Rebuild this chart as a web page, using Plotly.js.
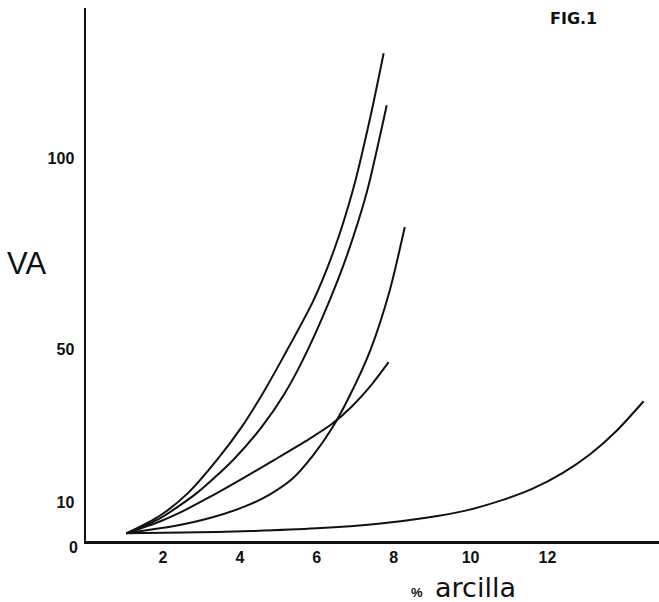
<!DOCTYPE html>
<html>
<head>
<meta charset="utf-8">
<script src="https://cdn.plot.ly/plotly-3.0.1.min.js"></script>
<style>
  html, body { margin: 0; padding: 0; background: #ffffff; }
  #chart { width: 659px; height: 602px; }
</style>
</head>
<body>
<div id="chart"></div>
<script>
// % arcilla (x) vs VA (y) — five curves
const curveA_x = [1.05, 1.92, 2.65, 3.40, 4.05, 4.60, 5.09, 5.90, 6.45, 6.95, 7.40, 7.74];
const curveA_y = [2.0, 6.6, 12.5, 21.1, 29.8, 38.6, 47.3, 62.5, 76.0, 92.0, 111.0, 127.4];

const curveB_x = [1.05, 1.92, 2.88, 3.82, 4.57, 5.17, 5.64, 6.30, 6.80, 7.30, 7.82];
const curveB_y = [2.0, 5.9, 12.5, 21.1, 29.8, 38.6, 47.3, 62.0, 75.0, 91.0, 113.8];

const curveC_x = [1.05, 1.92, 2.30, 3.22, 4.10, 4.75, 5.38, 5.90, 6.40, 6.86, 7.40, 7.90, 8.29];
const curveC_y = [2.0, 3.3, 3.9, 6.0, 8.9, 12.0, 16.4, 22.3, 29.5, 38.0, 50.0, 65.5, 82.0];

const curveD_x = [1.05, 1.92, 2.40, 3.22, 4.10, 4.90, 5.80, 6.40, 6.90, 7.40, 7.87];
const curveD_y = [2.0, 5.1, 7.2, 11.5, 16.5, 21.2, 26.6, 30.6, 35.0, 40.5, 46.7];

const curveE_x = [1.05, 2.50, 4.30, 6.00, 7.60, 8.80, 9.90, 10.80, 11.60, 12.40, 13.10, 13.80, 14.50];
const curveE_y = [2.0, 2.2, 2.6, 3.3, 4.5, 6.0, 8.0, 10.6, 13.6, 17.8, 22.6, 28.8, 36.5];

const xTickVals = [2, 4, 6, 8, 10, 12];
const xTickText = ['2', '4', '6', '8', '10', '12'];
const yTickVals = [10, 50, 100];
const yTickText = ['10', '50', '100'];

const ink = '#111111';
const series = [
  [curveA_x, curveA_y],
  [curveB_x, curveB_y],
  [curveC_x, curveC_y],
  [curveD_x, curveD_y],
  [curveE_x, curveE_y]
];

const traces = series.map(([xs, ys]) => ({
  x: xs, y: ys, type: 'scatter', mode: 'lines',
  line: { color: ink, width: 2, shape: 'spline', smoothing: 0.7 },
  hoverinfo: 'skip', showlegend: false
}));

const tickFont = { family: 'Liberation Sans, Arial, sans-serif', size: 16, color: ink, weight: 700 };

const layout = {
  width: 659, height: 602,
  margin: { l: 86, r: 0, t: 8, b: 61 },
  paper_bgcolor: '#ffffff', plot_bgcolor: '#ffffff',
  showlegend: false,
  xaxis: {
    range: [0, 14.9], showgrid: false, zeroline: false,
    showline: true, linecolor: ink, linewidth: 2.5,
    tickmode: 'array', tickvals: xTickVals, ticktext: xTickText,
    ticks: '', tickfont: tickFont, fixedrange: true
  },
  yaxis: {
    range: [0, 139.2], showgrid: false, zeroline: false,
    showline: true, linecolor: ink, linewidth: 2.5,
    tickmode: 'array', tickvals: yTickVals, ticktext: yTickText,
    ticks: 'outside', ticklen: 6, tickcolor: 'rgba(0,0,0,0)',
    tickfont: tickFont, fixedrange: true
  },
  annotations: [
    { text: '0', xref: 'paper', yref: 'paper', x: -0.0216, y: -0.0131,
      xanchor: 'center', yanchor: 'middle', showarrow: false, font: tickFont },
    { text: 'VA', xref: 'paper', yref: 'paper', x: -0.1047, y: 0.5197,
      xanchor: 'center', yanchor: 'middle', showarrow: false,
      font: { family: 'Liberation Sans, Arial, sans-serif', size: 31, color: ink } },
    { text: 'FIG.1', xref: 'paper', yref: 'paper', x: 0.850, y: 0.981,
      xanchor: 'center', yanchor: 'middle', showarrow: false,
      font: { family: 'DejaVu Sans, sans-serif', size: 16, color: ink, weight: 700 } },
    { text: '%', xref: 'paper', yref: 'paper', x: 0.578, y: -0.0957,
      xanchor: 'center', yanchor: 'middle', showarrow: false,
      font: { family: 'Liberation Sans, Arial, sans-serif', size: 13, color: ink, weight: 700 } },
    { text: 'arcilla', xref: 'paper', yref: 'paper', x: 0.679, y: -0.088,
      xanchor: 'center', yanchor: 'middle', showarrow: false,
      font: { family: 'DejaVu Sans, sans-serif', size: 27, color: ink } }
  ]
};

Plotly.newPlot('chart', traces, layout, { displayModeBar: false, staticPlot: true });
</script>
</body>
</html>
